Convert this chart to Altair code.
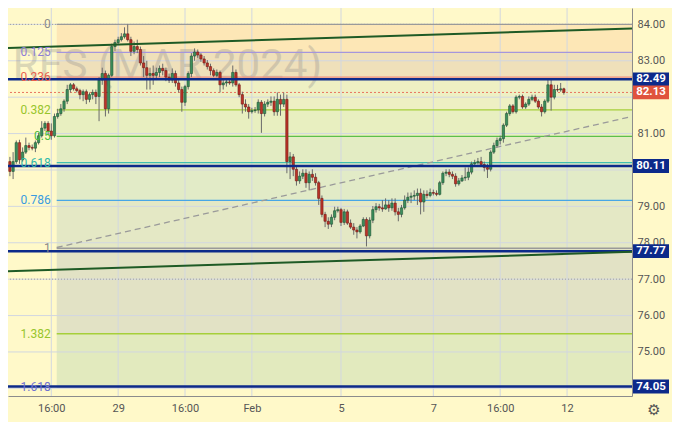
import json
import altair as alt
import pandas as pd

W, H = 624, 388
BG = "#fff9c9"

# ---------------- candles (hourly, index based) ----------------
first_open = 80.23
closes = [79.96, 80.23, 80.75, 80.28, 80.49, 80.67, 80.62, 80.60, 80.75, 80.94,
          81.15, 81.28, 81.07, 80.94, 81.47, 81.55, 81.68, 81.89, 82.21, 82.34,
          82.23, 82.18, 82.07, 82.15, 81.94, 82.07, 82.13, 82.02, 82.47, 82.65,
          81.68, 82.60, 83.39, 83.50, 83.58, 83.66, 83.74, 83.58, 83.26, 83.39,
          83.31, 82.94, 82.81, 82.60, 82.65, 82.60, 82.68, 82.79, 82.73, 82.55,
          82.47, 82.65, 82.39, 82.21, 81.86, 82.29, 82.65, 83.13, 83.24, 83.16,
          83.05, 82.94, 82.84, 82.73, 82.60, 82.68, 82.34, 82.39, 82.42, 82.39,
          82.68, 82.34, 82.07, 81.81, 81.73, 81.60, 81.63, 81.65, 81.86, 81.55,
          81.81, 81.86, 81.89, 81.60, 81.94, 81.81, 81.94, 80.23, 80.36, 80.02,
          79.70, 79.83, 79.91, 79.65, 79.88, 79.80, 79.65, 79.22, 78.78, 78.59,
          78.51, 78.70, 78.88, 78.91, 78.56, 78.85, 78.54, 78.43, 78.35, 78.30,
          78.46, 78.64, 78.19, 78.62, 78.91, 78.99, 78.96, 78.93, 79.04, 78.96,
          79.09, 78.85, 78.78, 78.96, 79.17, 79.25, 79.28, 79.30, 79.36, 79.12,
          79.33, 79.30, 79.38, 79.36, 79.33, 79.65, 79.91, 79.94, 79.88, 79.83,
          79.62, 79.70, 79.78, 79.80, 79.94, 80.17, 80.20, 80.23, 80.15, 80.07,
          80.02, 80.49, 80.67, 80.81, 80.86, 81.23, 81.55, 81.76, 81.60, 82.00,
          82.02, 81.73, 81.81, 81.94, 82.00, 81.89, 81.73, 81.60, 81.89, 82.34,
          82.00, 82.21, 82.20, 82.23, 82.13]
highs = [80.36, 80.49, 80.81, 80.83, 80.62, 80.89, 80.75, 80.70, 80.81, 81.02,
         81.34, 81.34, 81.34, 81.28, 81.55, 81.68, 81.81, 81.94, 82.34, 82.39,
         82.39, 82.29, 82.23, 82.21, 82.21, 82.13, 82.21, 82.21, 82.55, 82.81,
         82.73, 82.65, 83.47, 83.58, 83.66, 83.76, 83.92, 84.00, 83.66, 83.53,
         83.58, 83.39, 83.13, 83.00, 82.81, 82.87, 82.81, 82.87, 82.92, 82.81,
         82.65, 82.79, 82.73, 82.47, 82.29, 82.34, 82.71, 83.21, 83.34, 83.31,
         83.21, 83.13, 83.02, 82.92, 82.79, 82.76, 82.73, 82.47, 82.52, 82.50,
         82.87, 82.76, 82.39, 82.15, 81.94, 81.81, 81.71, 81.73, 81.94, 81.92,
         81.89, 81.94, 82.02, 82.02, 82.13, 82.07, 82.13, 82.07, 80.49, 80.44,
         80.09, 79.96, 80.02, 80.02, 79.96, 80.02, 79.91, 79.70, 79.30, 78.85,
         78.70, 78.78, 78.99, 78.99, 78.96, 78.93, 78.91, 78.64, 78.54, 78.43,
         78.51, 78.70, 78.70, 78.70, 79.01, 79.09, 79.07, 79.17, 79.22, 79.17,
         79.22, 79.22, 78.96, 79.04, 79.30, 79.38, 79.38, 79.44, 79.49, 79.49,
         79.44, 79.44, 79.49, 79.46, 79.44, 79.70, 79.96, 80.02, 80.02, 79.96,
         79.91, 79.78, 79.86, 80.07, 80.07, 80.23, 80.28, 80.33, 80.36, 80.23,
         80.17, 80.54, 80.75, 80.89, 80.94, 81.28, 81.60, 81.81, 81.81, 82.05,
         82.07, 82.07, 81.86, 82.02, 82.07, 82.07, 81.94, 81.81, 81.94, 82.47,
         82.47, 82.34, 82.34, 82.39, 82.26]
lows = [79.83, 79.75, 80.17, 80.17, 80.23, 80.44, 80.54, 80.54, 80.49, 80.70,
        80.89, 81.07, 80.97, 80.83, 80.89, 81.41, 81.49, 81.60, 81.81, 82.13,
        82.18, 82.13, 81.94, 81.89, 81.81, 81.86, 81.94, 81.81, 81.34, 82.34,
        81.47, 81.55, 82.55, 83.26, 83.45, 83.53, 83.61, 83.53, 83.13, 83.18,
        83.21, 82.87, 82.55, 82.21, 82.21, 82.34, 82.47, 82.55, 82.60, 82.44,
        82.39, 82.39, 82.29, 82.13, 81.60, 81.76, 82.21, 82.55, 83.00, 83.08,
        82.97, 82.87, 82.76, 82.60, 82.55, 82.55, 82.13, 82.21, 82.29, 82.34,
        82.29, 82.29, 82.00, 81.55, 81.60, 81.41, 81.55, 81.57, 81.55, 81.02,
        81.47, 81.73, 81.76, 81.49, 81.49, 81.49, 81.73, 79.91, 79.75, 79.83,
        79.57, 79.62, 79.75, 79.51, 79.44, 79.70, 79.57, 79.04, 78.70, 78.43,
        78.38, 78.43, 78.62, 78.83, 78.46, 78.49, 78.49, 78.38, 78.22, 78.12,
        78.25, 78.43, 77.90, 78.12, 78.54, 78.83, 78.88, 78.85, 78.91, 78.85,
        78.88, 78.75, 78.59, 78.70, 78.91, 79.09, 79.09, 79.17, 79.04, 78.78,
        78.85, 79.22, 79.25, 79.30, 79.28, 79.30, 79.59, 79.83, 79.80, 79.75,
        79.54, 79.57, 79.67, 79.70, 79.72, 79.88, 80.09, 80.15, 80.09, 79.96,
        79.78, 79.96, 80.44, 80.62, 80.70, 80.75, 81.18, 81.49, 81.55, 81.55,
        81.94, 81.68, 81.68, 81.76, 81.89, 81.84, 81.68, 81.47, 81.55, 81.84,
        81.63, 81.94, 82.15, 82.15, 82.07]

# ---------------- axes ----------------
x_tick_bars = [13, 34, 55, 76, 104, 133, 154, 175]
x_tick_labels = ["16:00", "29", "16:00", "Feb", "5", "7", "16:00", "12"]
price_ticks = [74, 75, 76, 77, 78, 79, 80, 81, 82, 83, 84]
hidden_price_labels = [74, 80, 82]   # covered by the price badges
x_min, x_max = -0.6, 195.4
y_min, y_max = 73.79, 84.45

# ---------------- fibonacci retracement ----------------
fib_price_0 = 84.00
fib_price_1 = 77.85
fib_start_bar = 14.7
fib_ratios = [0, 0.125, 0.236, 0.382, 0.5, 0.618, 0.786, 1, 1.382, 1.618]
fib_labels = ["0", "0.125", "0.236", "0.382", "0.5", "0.618", "0.786", "1", "1.382", "1.618"]
fib_line_colors = ["#9a9a9a", "#a596dc", "#ee8a7c", "#a6cf3a", "#5cc04a",
                   "#3fbfb0", "#47a6e6", "#9a9a9a", "#a6cf3a", "#7c7fd8"]
fib_label_colors = ["#8a8a8a", "#8e7fd6", "#e8604e", "#98c52c", "#4cbb3c",
                    "#30b8a8", "#3a9be0", "#8a8a8a", "#98c52c", "#6f72d0"]
fib_zone_colors = ["#fde7b6", "#efe0ba", "#eef0c3", "#e8efc0", "#e3ecc3",
                   "#e2ebc7", "#e4e8c5", "#e2e2c5", "#e2eabe"]

# ---------------- drawings ----------------
key_levels = [82.49, 80.11, 77.77, 74.05]
last_price = 82.13
dotted_levels = [84.00, 77.00]
trend_upper = [83.35, 83.89]
trend_lower = [77.22, 77.75]
dash_from = [14.7, 77.87]
dash_to = [195.4, 81.47]
badge_prices = [82.49, 82.13, 80.11, 77.77, 74.05]
badge_texts = ["82.49", "82.13", "80.11", "77.77", "74.05"]
badge_colors = ["#0c2a8a", "#e0533d", "#0c2a8a", "#0c2a8a", "#0c2a8a"]
watermark = "RES (MAR 2024)"

# ---------------- tables ----------------
n = len(closes)
opens = [first_open] + closes[:-1]
cdf = pd.DataFrame({"bar": list(range(n)), "open": opens, "close": closes,
                    "high": highs, "low": lows})
cdf["x0"] = cdf["bar"] - 0.36
cdf["x1"] = cdf["bar"] + 0.36
up = cdf["close"] >= cdf["open"]
cdf["fill"] = ["#3b8f5c" if u else "#bd3328" for u in up]
cdf["edge"] = ["#1d5233" if u else "#6e1a14" for u in up]

fib_prices = [fib_price_0 - r * (fib_price_0 - fib_price_1) for r in fib_ratios]
fdf = pd.DataFrame({"price": fib_prices, "label": fib_labels, "lc": fib_line_colors,
                    "tc": fib_label_colors, "xs": fib_start_bar, "xe": x_max})
zdf = pd.DataFrame({"top": fib_prices[:-1], "bottom": fib_prices[1:], "color": fib_zone_colors,
                    "xs": fib_start_bar, "xe": x_max})
tdf = pd.DataFrame({"xa": [x_min, x_min], "xb": [x_max, x_max],
                    "ya": [trend_upper[0], trend_lower[0]], "yb": [trend_upper[1], trend_lower[1]]})
ddf = pd.DataFrame({"xa": [dash_from[0]], "ya": [dash_from[1]], "xb": [dash_to[0]], "yb": [dash_to[1]]})
bdf = pd.DataFrame({"p": badge_prices, "t": badge_texts, "c": badge_colors})
bdf["pt"] = bdf["p"] + 0.19
bdf["pb"] = bdf["p"] - 0.19

FONT = "Roboto"
x_label_expr = "%s[indexof(%s, datum.value)]" % (json.dumps(x_tick_labels), json.dumps(x_tick_bars))
y_label_expr = "indexof(%s, datum.value) >= 0 ? '' : format(datum.value, '.2f')" % json.dumps(hidden_price_labels)
X_SCALE = alt.Scale(domain=[x_min, x_max], nice=False, zero=False)
Y_SCALE = alt.Scale(domain=[y_min, y_max], nice=False, zero=False)
X_AXIS = alt.Axis(values=x_tick_bars, labelExpr=x_label_expr, title=None, grid=False, ticks=False,
                  domainColor="#8c8c8c", labelColor="#555555", labelFontSize=11, labelFont=FONT,
                  labelPadding=6, labelFlush=False, labelOverlap=False, zindex=0)
Y_AXIS = alt.Axis(orient="right", values=price_ticks, labelExpr=y_label_expr, title=None, grid=False,
                  ticks=False, domainColor="#8c8c8c", labelColor="#555555", labelFontSize=11,
                  labelFont=FONT, labelPadding=5, labelOverlap=False, labelFlush=False, zindex=0)


def X(f):
    return alt.X(f, type="quantitative", scale=X_SCALE, axis=X_AXIS)


def Y(f):
    return alt.Y(f, type="quantitative", scale=Y_SCALE, axis=Y_AXIS)


zones = alt.Chart(zdf).mark_rect().encode(
    x=X("xs"), x2="xe", y=Y("top"), y2="bottom", color=alt.Color("color:N", scale=None))
hgrid = alt.Chart(pd.DataFrame({"p": price_ticks})).mark_rule(
    color="#d2d7e0", strokeWidth=1).encode(y=Y("p"))
vgrid = alt.Chart(pd.DataFrame({"b": x_tick_bars})).mark_rule(
    color="#d2d7e0", strokeWidth=1).encode(x=X("b"))
wm = alt.Chart(pd.DataFrame({"t": [watermark], "b": [0.9], "p": [82.87]})).mark_text(
    align="left", baseline="middle", fontSize=42, font=FONT, color="#8a8a8a", opacity=0.3
).encode(x=X("b"), y=Y("p"), text="t:N")
dotted = alt.Chart(pd.DataFrame({"p": dotted_levels})).mark_rule(
    color="#a0a0a0", strokeWidth=1, strokeDash=[1, 2]).encode(y=Y("p"))
lastline = alt.Chart(pd.DataFrame({"p": [last_price]})).mark_rule(
    color="#e8735f", strokeWidth=1, strokeDash=[2, 2]).encode(y=Y("p"))
fiblines = alt.Chart(fdf).mark_rule(strokeWidth=1.3).encode(
    x=X("xs"), x2="xe", y=Y("price"), color=alt.Color("lc:N", scale=None))
dashed = alt.Chart(ddf).mark_rule(color="#9a9a9a", strokeWidth=1.3, strokeDash=[6, 4]).encode(
    x=X("xa"), y=Y("ya"), x2="xb", y2="yb")
wicks = alt.Chart(cdf).mark_rule(color="#6a6a6a", strokeWidth=1).encode(
    x=X("bar"), y=Y("low"), y2="high")
bodies = alt.Chart(cdf).mark_rect(strokeWidth=0.6).encode(
    x=X("x0"), x2="x1", y=Y("open"), y2="close",
    fill=alt.Fill("fill:N", scale=None), stroke=alt.Stroke("edge:N", scale=None))
keylines = alt.Chart(pd.DataFrame({"p": key_levels})).mark_rule(
    color="#0c2a8a", strokeWidth=2.5).encode(y=Y("p"))
trends = alt.Chart(tdf).mark_rule(color="#1e5a25", strokeWidth=2).encode(
    x=X("xa"), y=Y("ya"), x2="xb", y2="yb")
fiblabels = alt.Chart(fdf).mark_text(align="right", baseline="middle", dx=-6, fontSize=12,
                                     font=FONT).encode(
    x=X("xs"), y=Y("price"), text="label:N", color=alt.Color("tc:N", scale=None))
badges = alt.Chart(bdf).mark_rect().encode(
    x=alt.value(W + 1), x2=alt.value(W + 37), y=Y("pt"), y2="pb",
    color=alt.Color("c:N", scale=None))
badge_txt = alt.Chart(bdf).mark_text(align="center", baseline="middle", fontSize=11.5,
                                     fontWeight="bold", font=FONT, color="white").encode(
    x=alt.value(W + 19), y=Y("p"), text="t:N")
gear = alt.Chart(pd.DataFrame({"t": ["\u2699"]})).mark_text(
    fontSize=15, color="#555555", font="DejaVu Sans").encode(
    x=alt.value(W + 22), y=alt.value(H + 14), text="t:N")

chart = alt.layer(
    zones, hgrid, vgrid, wm, dotted, lastline, fiblines, dashed, wicks, bodies,
    keylines, trends, fiblabels, badges, badge_txt, gear
).properties(
    width=W, height=H,
    padding={"left": 0, "top": 0, "right": 40, "bottom": 26},
    autosize=alt.AutoSizeParams(type="none"),
    background=BG,
).configure_view(strokeWidth=0)

chart.save("out.html", embed_options={"renderer": "svg", "actions": False})
